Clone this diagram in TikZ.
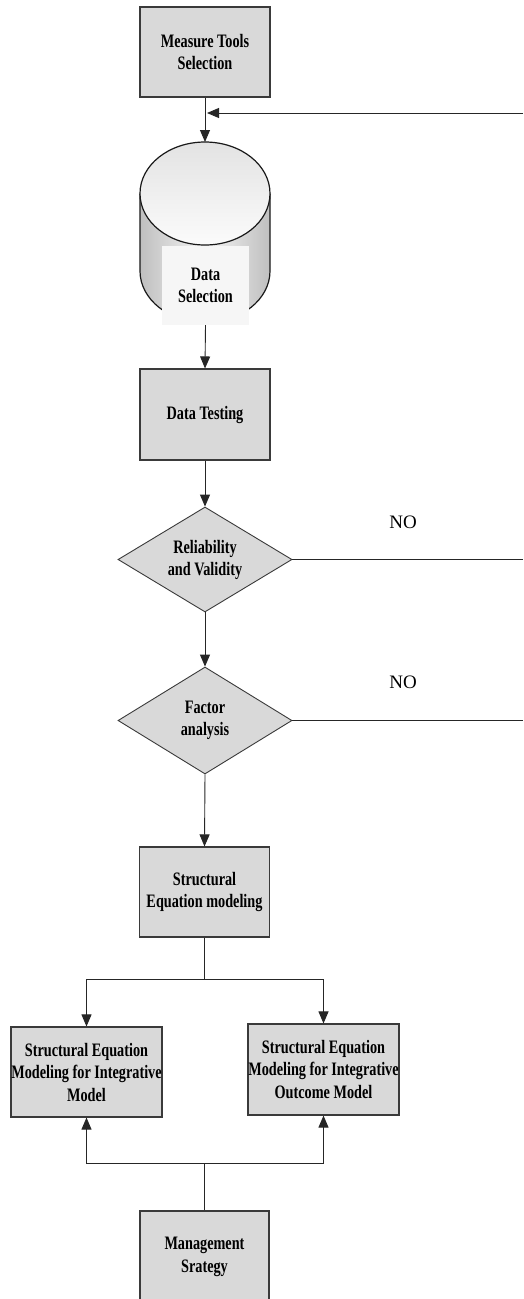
\documentclass[tikz,border=0pt]{standalone}
\usepackage{fontspec}
\setmainfont{Liberation Serif}
\newfontfamily\boxfont{Liberation Serif}[FakeStretch=0.75]
\usetikzlibrary{shapes.geometric,arrows.meta}
\definecolor{boxgray}{HTML}{D9D9D9}
\definecolor{edgegray}{HTML}{3A3A3A}
\tikzset{
  procbox/.style={draw=edgegray, line width=1.1pt, fill=boxgray, align=center,
    inner sep=0pt, font=\boxfont\bfseries\fontsize{19}{22.5}\selectfont},
  decbox/.style={diamond, draw=edgegray, line width=0.9pt, fill=boxgray, align=center,
    inner sep=0pt, font=\boxfont\bfseries\fontsize{19}{22}\selectfont},
  lbl/.style={font=\fontsize{19}{22}\selectfont},
  conn/.style={draw=black!85, line width=0.9pt},
  arr/.style={conn, -{Triangle[length=12pt,width=10pt]}},
}
\begin{document}
\begin{tikzpicture}[x=1pt,y=1pt]
\useasboundingbox (0,0) rectangle (523,-1299);
\clip (0,0) rectangle (523,-1299);
% Measure tools
\node[procbox, minimum width=130, minimum height=90] (mts) at (205,-52) {Measure Tools\\Selection};
% cylinder
\shade[left color=gray!50, right color=gray!50, middle color=gray!8]
  (140,-193.5) -- (140,-271) arc[start angle=180, end angle=360, x radius=65, y radius=51.5] -- (270,-193.5) -- cycle;
\draw[line width=1.2pt, black!90]
  (140,-193.5) -- (140,-271) arc[start angle=180, end angle=360, x radius=65, y radius=51.5] -- (270,-193.5);
\shade[top color=gray!22, bottom color=gray!3, draw=black!90, line width=1.2pt]
  (205,-193.5) ellipse [x radius=65, y radius=51.5];
\coordinate (cyltop) at (205,-142);
\node[fill=gray!7, minimum width=87, minimum height=79, inner sep=0pt, align=center,
  font=\boxfont\bfseries\fontsize{19}{22}\selectfont] (dsel) at (205.5,-285.5) {Data\\Selection};
% Data testing
\node[procbox, minimum width=130, minimum height=91] (dt) at (205,-414.5) {Data Testing};
% decisions
\node[decbox, aspect=1.66, minimum width=174, minimum height=105] (rv) at (205,-559.5) {Reliability\\and Validity};
\node[decbox, aspect=1.63, minimum width=174, minimum height=107] (fa) at (205,-720.5) {Factor\\analysis};
% SEM
\node[procbox, minimum width=130, minimum height=90] (sem) at (204.5,-892) {Structural\\Equation modeling};
\node[procbox, minimum width=151, minimum height=90] (left) at (86.5,-1072) {Structural Equation\\Modeling for Integrative\\Model};
\node[procbox, minimum width=151, minimum height=91] (right) at (323.5,-1069.5) {Structural Equation\\Modeling for Integrative\\Outcome Model};
\node[procbox, minimum width=129, minimum height=92] (mgmt) at (204.5,-1257) {Management\\Srategy};
% labels
\node[lbl] (no1) at (403,-522) {NO};
\node[lbl] (no2) at (403,-682) {NO};
% connectors
\coordinate (fbR) at (523,-113);
\coordinate (fbL) at (207,-113);
\coordinate (r1) at (523,-559.5);
\coordinate (r2) at (523,-720.5);
\coordinate (split) at (204.5,-979);
\coordinate (join) at (204.5,-1163);
\draw[arr] (mts.south) -- (cyltop);
\draw[arr] (fbR) -- (fbL);
\draw[arr] (dsel.south) -- (dt.north);
\draw[arr] (dt.south) -- (rv.north);
\draw[conn] (rv.east) -- (r1);
\draw[arr] (rv.south) -- (fa.north);
\draw[conn] (fa.east) -- (r2);
\draw[arr] (fa.south) -- (sem.north);
\draw[conn] (sem.south) -- (split);
\draw[arr] (split) -| (left.north);
\draw[arr] (split) -| (right.north);
\draw[conn] (mgmt.north) -- (join);
\draw[arr] (join) -| (left.south);
\draw[arr] (join) -| (right.south);
\end{tikzpicture}
\end{document}
